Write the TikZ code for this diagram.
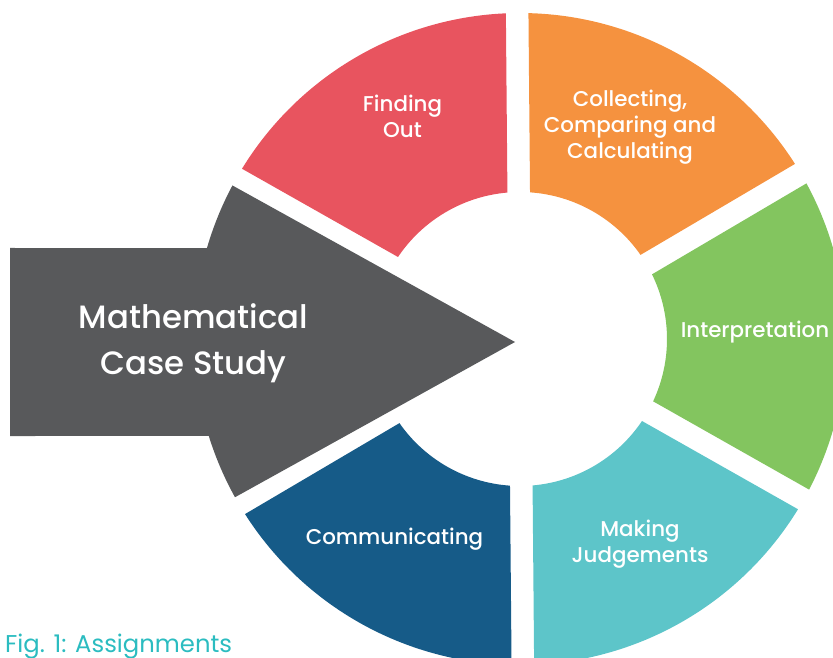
\documentclass[tikz,border=0pt]{standalone}
\usepackage{fontspec}
\setmainfont{Poppins}[UprightFont=* Medium]
\newfontfamily\captionfont{Poppins}
\usetikzlibrary{calc}
\definecolor{segred}{HTML}{E8545F}
\definecolor{segorange}{HTML}{F5923F}
\definecolor{seggreen}{HTML}{83C55F}
\definecolor{segteal}{HTML}{5DC5C9}
\definecolor{segblue}{HTML}{165B88}
\definecolor{arrowgrey}{HTML}{58595B}
\definecolor{figcaption}{HTML}{2BBCC0}
\begin{document}
\begin{tikzpicture}[x=1pt,y=1pt,
  seglabel/.style={text=white, align=center, inner sep=0pt,
    font=\fontsize{21.4}{26.2}\selectfont},
  titlelabel/.style={text=white, align=center, inner sep=0pt,
    font=\fontsize{32.3}{46}\selectfont},
  captionlabel/.style={text=figcaption, inner sep=0pt,
    font=\captionfont\fontsize{24.3}{28}\selectfont}]
\useasboundingbox (0,0) rectangle (833,657);
\clip (0,0) rectangle (833,657);

% ring geometry
\coordinate (C) at (520,318);
\def\Ro{326}\def\Ri{147}\def\gw{11.3}\def\rot{0.5}
\pgfmathsetmacro\dO{asin(\gw/\Ro)}
\pgfmathsetmacro\dI{asin(\gw/\Ri)}

% one ring segment between two gap directions, with straight parallel gaps
\newcommand\ringsegment[3]{%
  \pgfmathsetmacro\sa{#1+\rot+\dO}\pgfmathsetmacro\sb{#2+\rot-\dO}%
  \pgfmathsetmacro\ia{#2+\rot-\dI}\pgfmathsetmacro\ib{#1+\rot+\dI}%
  \fill[#3] ($(C)+(\sa:\Ro pt)$) arc[start angle=\sa, end angle=\sb, radius=\Ro pt]
    -- ($(C)+(\ia:\Ri pt)$) arc[start angle=\ia, end angle=\ib, radius=\Ri pt] -- cycle;}

\ringsegment{90}{150}{segred}
\ringsegment{30}{90}{segorange}
\ringsegment{-30}{30}{seggreen}
\ringsegment{-90}{-30}{segteal}
\ringsegment{210}{270}{segblue}

% grey arrow pointing into the ring
\coordinate (tip) at (515,315);
\fill[arrowgrey] (tip) -- ($(C)+(151.9:\Ro pt)$)
  arc[start angle=151.9, end angle=163.8, radius=\Ro pt]
  -- (10,409) -- (10,221) -- ($(C)+(197.31:\Ro pt)$)
  arc[start angle=197.31, end angle=209.04, radius=\Ro pt] -- cycle;

% labels
\node[seglabel] (finding) at (402.5,541) {Finding\\Out};
\node[seglabel] (collecting) at (630,530) {Collecting,\\Comparing and\\Calculating};
\node[seglabel] (interpretation) at (755,325) {Interpretation};
\node[seglabel] (making) at (640,112.5) {Making\\Judgements};
\node[seglabel] (communicating) at (394.5,117.5) {Communicating};
\node[titlelabel] (casestudy) at (193.5,314) {Mathematical\\Case Study};
\node[captionlabel, anchor=base west] (caption) at (5,5) {Fig. 1: Assignments};
\end{tikzpicture}
\end{document}
